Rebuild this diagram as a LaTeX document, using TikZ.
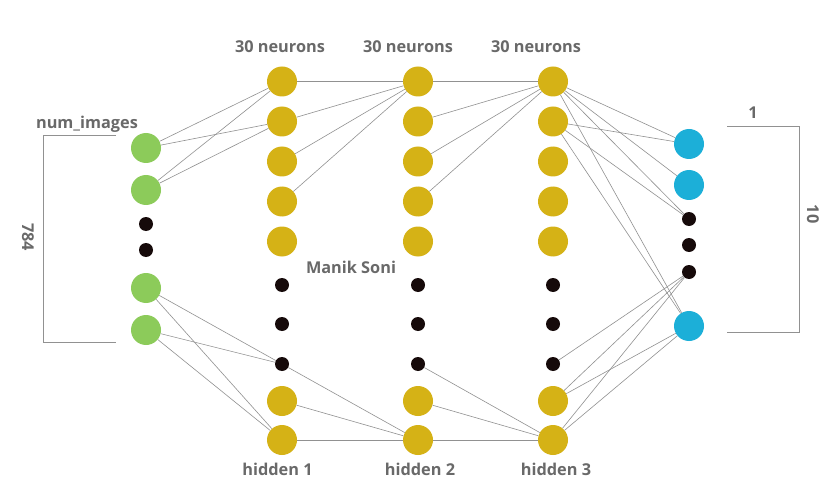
\documentclass[tikz,border=0pt]{standalone}
\usepackage{fontspec}
\setmainfont{Open Sans}
\definecolor{nnGreen}{RGB}{140,203,90}
\definecolor{nnGold}{RGB}{213,178,22}
\definecolor{nnBlue}{RGB}{28,175,216}
\definecolor{nnDot}{RGB}{22,10,10}
\definecolor{nnWire}{RGB}{145,145,145}
\definecolor{nnText}{RGB}{105,105,105}
\tikzset{
  unit/.style={circle, inner sep=0pt, minimum size=30pt},
  inp/.style={unit, fill=nnGreen},
  hid/.style={unit, fill=nnGold},
  outp/.style={unit, fill=nnBlue},
  gapdot/.style={circle, inner sep=0pt, minimum size=14pt, fill=nnDot},
  wire/.style={draw=nnWire, line width=0.6pt},
  brace/.style={draw=nnWire, line width=1pt},
  lbl/.style={font=\bfseries\fontsize{16.3}{19}\selectfont, text=nnText, inner sep=0pt}
}
\begin{document}
\begin{tikzpicture}[x=1pt,y=-1pt]
\useasboundingbox[fill=white] (0,0) rectangle (840,497);
\node[inp] (in1) at (146,148){};
\node[inp] (in2) at (146,190){};
\node[gapdot] (in3) at (146,224){};
\node[gapdot] (in4) at (146,250){};
\node[inp] (in5) at (146,288){};
\node[inp] (in6) at (146,330){};

\node[hid] (ha1) at (282,81.5){};
\node[hid] (ha2) at (282,121.5){};
\node[hid] (ha3) at (282,161.5){};
\node[hid] (ha4) at (282,201.5){};
\node[hid] (ha5) at (282,241.5){};
\node[gapdot] (ha6) at (282,285){};
\node[gapdot] (ha7) at (282,324){};
\node[gapdot] (ha8) at (282,364){};
\node[hid] (ha9) at (282,401){};
\node[hid] (ha10) at (282,440){};

\node[hid] (hb1) at (418,81.5){};
\node[hid] (hb2) at (418,121.5){};
\node[hid] (hb3) at (418,161.5){};
\node[hid] (hb4) at (418,201.5){};
\node[hid] (hb5) at (418,241.5){};
\node[gapdot] (hb6) at (418,285){};
\node[gapdot] (hb7) at (418,324){};
\node[gapdot] (hb8) at (418,364){};
\node[hid] (hb9) at (418,401){};
\node[hid] (hb10) at (418,440){};

\node[hid] (hc1) at (553,81.5){};
\node[hid] (hc2) at (553,121.5){};
\node[hid] (hc3) at (553,161.5){};
\node[hid] (hc4) at (553,201.5){};
\node[hid] (hc5) at (553,241.5){};
\node[gapdot] (hc6) at (553,285){};
\node[gapdot] (hc7) at (553,324){};
\node[gapdot] (hc8) at (553,364){};
\node[hid] (hc9) at (553,401){};
\node[hid] (hc10) at (553,440){};

\node[outp] (out1) at (689,144){};
\node[outp] (out2) at (689,185){};
\node[gapdot] (out3) at (689,219){};
\node[gapdot] (out4) at (689,245){};
\node[gapdot] (out5) at (689,272){};
\node[outp] (out6) at (689,326){};

\draw[wire](in1) -- (ha1);
\draw[wire](in1) -- (ha2);
\draw[wire](in2) -- (ha1);
\draw[wire](in2) -- (ha2);
\draw[wire](in5) -- (ha8);
\draw[wire](in5) -- (ha10);
\draw[wire](in6) -- (ha8);
\draw[wire](in6) -- (ha10);

\draw[wire](ha1) -- (hb1);
\draw[wire](ha2) -- (hb1);
\draw[wire](ha3) -- (hb1);
\draw[wire](ha4) -- (hb1);
\draw[wire](ha8) -- (hb10);
\draw[wire](ha9) -- (hb10);
\draw[wire](ha10) -- (hb10);

\draw[wire](hb1) -- (hc1);
\draw[wire](hb2) -- (hc1);
\draw[wire](hb3) -- (hc1);
\draw[wire](hb4) -- (hc1);
\draw[wire](hb8) -- (hc10);
\draw[wire](hb9) -- (hc10);
\draw[wire](hb10) -- (hc10);

\draw[wire](hc1) -- (out1);
\draw[wire](hc1) -- (out2);
\draw[wire](hc1) -- (out3);
\draw[wire](hc1) -- (out6);
\draw[wire](hc2) -- (out1);
\draw[wire](hc2) -- (out3);
\draw[wire](hc2) -- (out6);
\draw[wire](hc8) -- (out5);
\draw[wire](hc9) -- (out5);
\draw[wire](hc9) -- (out6);
\draw[wire](hc10) -- (out5);
\draw[wire](hc10) -- (out6);

\coordinate (lbTop) at (116,136);
\coordinate (lbBot) at (116,342);
\draw[brace] (lbTop) -- (43,136) -- (43,342) -- (lbBot);
\coordinate (rbTop) at (727,127);
\coordinate (rbBot) at (727,332);
\draw[brace] (rbTop) -- (799,127) -- (799,332) -- (rbBot);

\node[lbl] (capA) at (280,47) {30 neurons};
\node[lbl] (capB) at (408,47) {30 neurons};
\node[lbl] (capC) at (536,47) {30 neurons};
\node[lbl] (nameA) at (277.5,469) {hidden 1};
\node[lbl] (nameB) at (420,469) {hidden 2};
\node[lbl] (nameC) at (556,469) {hidden 3};
\node[lbl] (inName) at (87,124) {num\_images};
\node[lbl, rotate=-90] (inCount) at (28,237) {784};
\node[lbl] (outOne) at (753,113) {1};
\node[lbl, rotate=-90] (outCount) at (813,214) {10};
\node[lbl] (sign) at (351,267) {Manik Soni};
\end{tikzpicture}
\end{document}
